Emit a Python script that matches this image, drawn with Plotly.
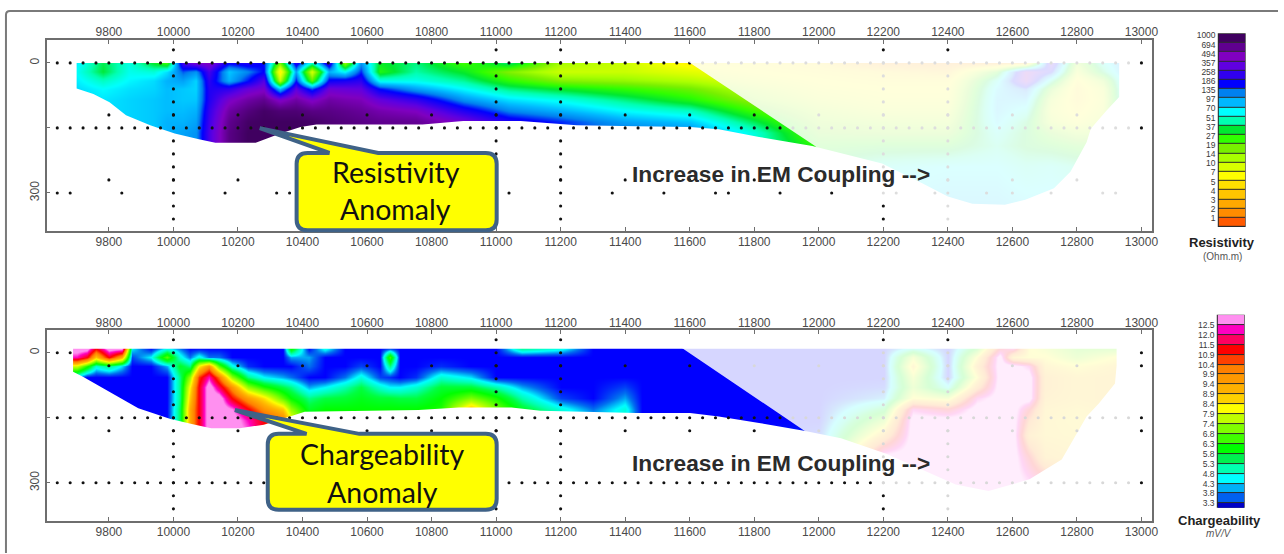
import numpy as np
import plotly.graph_objects as go

W, H = 1284, 554

# ---------- axes / ticks ----------
x_ticks = [9800, 10000, 10200, 10400, 10600, 10800, 11000, 11200, 11400, 11600, 11800,
           12000, 12200, 12400, 12600, 12800, 13000]
depth_ticks = [0, 150, 300]
depth_ticktext = ["0", "", "300"]

# ---------- resistivity section (ohm.m), one list per station, depths below ----------
res_depth = [0, 20, 40, 60, 85, 110, 135, 160, 190, 240, 330]
res_x = [9700, 9780, 9860, 9940, 9980, 10030, 10070, 10110, 10170, 10230, 10280, 10330, 10380,
         10430, 10480, 10530, 10580, 10640, 10750, 10900, 11040, 11200, 11400, 11600, 11800,
         12000, 12200, 12400, 12550, 12640, 12720, 12800, 12880, 12950]
res_9700 = [75, 68, 75, 82, 85, 85, 85, 85, 85, 85, 85]
res_9780 = [40, 38, 55, 70, 78, 80, 80, 80, 80, 80, 80]
res_9860 = [62, 65, 72, 80, 85, 85, 85, 85, 85, 85, 85]
res_9940 = [35, 60, 82, 85, 90, 90, 90, 90, 90, 90, 90]
res_9980 = [25, 80, 100, 95, 95, 95, 100, 100, 100, 100, 100]
res_10030 = [300, 150, 110, 90, 90, 95, 100, 110, 110, 110, 110]
res_10070 = [450, 120, 85, 85, 90, 100, 110, 120, 120, 120, 120]
res_10110 = [500, 300, 250, 230, 230, 260, 280, 300, 300, 300, 300]
res_10170 = [200, 90, 100, 250, 450, 600, 700, 750, 750, 750, 750]
res_10230 = [230, 130, 180, 380, 600, 800, 950, 1000, 1000, 1000, 1000]
res_10280 = [180, 190, 330, 450, 700, 950, 1000, 1000, 1000, 1000, 1000]
res_10330 = [20, 6, 12, 90, 450, 850, 1000, 1000, 1000, 1000, 1000]
res_10380 = [250, 110, 180, 350, 600, 850, 1000, 1000, 1000, 1000, 1000]
res_10430 = [60, 10, 22, 150, 450, 750, 950, 950, 950, 950, 950]
res_10480 = [300, 100, 200, 400, 600, 750, 850, 850, 850, 850, 850]
res_10530 = [15, 70, 220, 380, 550, 700, 800, 800, 800, 800, 800]
res_10580 = [120, 170, 250, 360, 520, 650, 750, 750, 750, 750, 750]
res_10640 = [35, 30, 65, 180, 370, 560, 700, 700, 700, 700, 700]
res_10750 = [45, 50, 65, 110, 260, 480, 680, 680, 680, 680, 680]
res_10900 = [25, 35, 48, 70, 120, 230, 420, 420, 420, 420, 420]
res_11040 = [45, 18, 28, 45, 80, 130, 230, 230, 230, 230, 230]
res_11200 = [14, 11, 18, 35, 65, 100, 170, 170, 170, 170, 170]
res_11400 = [11, 11, 16, 27, 45, 70, 110, 150, 150, 150, 150]
res_11600 = [6, 9, 13, 20, 30, 55, 90, 130, 130, 130, 130]
res_11800 = [6, 7, 9, 12, 16, 25, 40, 60, 60, 60, 60]
res_12000 = [5, 6, 7, 8, 10, 13, 16, 20, 27, 40, 50]
res_12200 = [2.5, 5, 6, 7, 8, 10, 14, 18, 30, 60, 80]
res_12400 = [2.5, 4, 6, 7, 8, 10, 13, 18, 30, 70, 90]
res_12550 = [2.5, 25, 60, 80, 90, 90, 80, 60, 50, 70, 90]
res_12640 = [3, 500, 500, 150, 90, 60, 40, 35, 35, 55, 80]
res_12720 = [400, 200, 50, 20, 12, 10, 12, 20, 30, 60, 80]
res_12800 = [15, 10, 6, 5, 5, 6, 8, 14, 25, 50, 70]
res_12880 = [60, 40, 15, 10, 9, 10, 12, 15, 25, 50, 70]
res_12950 = [130, 130, 110, 100, 90, 90, 80, 70, 70, 70, 70]
res_columns = [res_9700, res_9780, res_9860, res_9940, res_9980, res_10030, res_10070, res_10110,
               res_10170, res_10230, res_10280, res_10330, res_10380, res_10430, res_10480,
               res_10530, res_10580, res_10640, res_10750, res_10900, res_11040, res_11200,
               res_11400, res_11600, res_11800, res_12000, res_12200, res_12400, res_12550,
               res_12640, res_12720, res_12800, res_12880, res_12950]

# outline of the resistivity section
res_edge_x = [9700, 9700, 9752, 9802, 9853, 9928, 10004, 10079, 10130, 10255, 10331, 10394, 10443,
              10772, 10898, 11076, 11250, 11436, 11601, 11690, 11815, 11980, 12196, 12322, 12400,
              12476, 12577, 12640, 12729, 12780, 12830, 12843, 12892, 12931, 12931]
res_edge_d = [0, 59, 72, 91, 121, 144, 163, 176, 184, 184, 163, 148, 142,
              142, 134, 134, 144, 146, 148, 153, 171, 192, 232, 278, 308,
              325, 327, 316, 289, 251, 183, 152, 110, 79, 0]
res_wash_x = [11591, 11985, 12205, 12410, 12970, 12970]
res_wash_d = [-5, 190, 315, 375, 375, -5]

# ---------- chargeability section (mV/V) ----------
chg_depth = [-10, 10, 30, 55, 80, 105, 130, 155, 190, 240, 330]
chg_x = [9700, 9730, 9760, 9800, 9840, 9870, 9930, 9980, 10020, 10050, 10080, 10110, 10140, 10180,
         10230, 10280, 10340, 10365, 10420, 10470, 10530, 10580, 10640, 10670, 10700, 10750, 10830,
         10920, 11000, 11080, 11200, 11300, 11400, 11450, 11600, 11800, 12000, 12200, 12290, 12400,
         12490, 12560, 12600, 12650, 12700, 12800, 12920]
chg_9700 = [13, 12, 7.5, 4, 3.3, 3.3, 3.3, 3.3, 3.3, 3.3, 3.3]
chg_9730 = [13, 11, 6, 3.3, 3.3, 3.3, 3.3, 3.3, 3.3, 3.3, 3.3]
chg_9760 = [11, 8.5, 4.5, 3.3, 3.3, 3.3, 3.3, 3.3, 3.3, 3.3, 3.3]
chg_9800 = [13, 11, 5, 3.3, 3.3, 3.3, 3.3, 3.3, 3.3, 3.3, 3.3]
chg_9840 = [13, 9, 4.2, 3.3, 3.3, 3.3, 3.3, 3.3, 3.3, 3.3, 3.3]
chg_9870 = [4.3, 3.6, 3.3, 3.3, 3.3, 3.3, 3.3, 3.3, 3.3, 3.3, 3.3]
chg_9930 = [3.3, 4.3, 3.3, 3.3, 3.3, 3.3, 3.3, 3.3, 3.3, 3.3, 3.3]
chg_9980 = [4.3, 6.5, 4, 3.3, 3.3, 3.3, 3.3, 3.3, 3.3, 3.3, 3.3]
chg_10020 = [3.8, 4.5, 5.5, 5, 5, 5, 5.2, 5.2, 5.2, 5.2, 5.2]
chg_10050 = [3.3, 3.8, 5, 7, 8, 8.5, 9, 9, 9, 9, 9]
chg_10080 = [3.3, 4.5, 8, 10.5, 11, 11, 11, 11, 11, 11, 11]
chg_10110 = [3.3, 3.8, 9.5, 12, 13, 13, 13, 13, 13, 13, 13]
chg_10140 = [3.3, 3.8, 6.5, 10, 11.5, 13, 13, 13, 13, 13, 13]
chg_10180 = [3.3, 3.3, 4.5, 7, 9.5, 10.9, 12.5, 13, 13, 13, 13]
chg_10230 = [3.3, 3.3, 3.5, 5, 7, 9.3, 11, 12, 12.5, 12.5, 12.5]
chg_10280 = [3.3, 3.3, 3.3, 4.3, 6, 8.2, 9.5, 10.9, 10.9, 10.9, 10.9]
chg_10340 = [3.3, 3.3, 3.3, 4, 5.3, 6.5, 8.5, 9.9, 9.9, 9.9, 9.9]
chg_10365 = [6, 4, 3.3, 3.8, 5, 5.8, 7, 8, 8, 8, 8]
chg_10420 = [3.3, 4, 3.8, 3.3, 4, 5, 5.5, 6, 6, 6, 6]
chg_10470 = [4.5, 3.3, 3.3, 3.3, 4.3, 5.3, 5.8, 6, 6, 6, 6]
chg_10530 = [3.3, 3.3, 3.3, 3.8, 4.8, 5.4, 5.8, 6, 6, 6, 6]
chg_10580 = [3.3, 3.3, 3.6, 4.5, 5.3, 5.6, 5.8, 6.3, 6.3, 6.3, 6.3]
chg_10640 = [3.3, 3.3, 3.3, 3.6, 4.6, 5.4, 5.8, 6.3, 6.3, 6.3, 6.3]
chg_10670 = [3.5, 6.3, 5, 3.5, 4.3, 5.4, 5.8, 6.3, 6.3, 6.3, 6.3]
chg_10700 = [3.3, 3.3, 3.3, 3.3, 4.3, 5.3, 5.8, 6, 6, 6, 6]
chg_10750 = [3.3, 3.3, 3.3, 3.5, 4.6, 5.3, 5.8, 6, 6, 6, 6]
chg_10830 = [3.3, 3.3, 3.5, 4.6, 5.4, 5.8, 6, 6, 6, 6, 6]
chg_10920 = [3.3, 3.3, 3.3, 4.2, 5.4, 6.8, 8.7, 8.7, 8.7, 8.7, 8.7]
chg_11000 = [3.3, 3.3, 3.3, 3.3, 4.8, 6, 6.8, 7, 7, 7, 7]
chg_11080 = [5, 3.3, 3.3, 3.3, 4, 4.8, 5.5, 5.5, 5.5, 5.5, 5.5]
chg_11200 = [4.5, 3.3, 3.3, 3.3, 3.3, 3.6, 4.5, 4.5, 4.5, 4.5, 4.5]
chg_11300 = [3.3, 3.3, 3.3, 3.3, 3.3, 3.3, 3.8, 4.2, 4.2, 4.2, 4.2]
chg_11400 = [3.3, 3.3, 3.3, 3.3, 3.6, 4, 4.5, 4.5, 4.5, 4.5, 4.5]
chg_11450 = [3.3, 3.3, 3.3, 3.3, 3.3, 3.3, 3.3, 3.3, 3.3, 3.3, 3.3]
chg_11600 = [3.3, 3.3, 3.3, 3.3, 3.3, 3.3, 3.3, 3.3, 3.3, 3.3, 3.3]
chg_11800 = [3.3, 3.3, 3.3, 3.3, 3.3, 3.3, 3.3, 3.3, 3.3, 3.3, 3.3]
chg_12000 = [3.3, 3.3, 3.3, 3.3, 3.3, 3.3, 3.3, 3.3, 3.5, 3.5, 3.5]
chg_12200 = [3.3, 3.3, 3.3, 3.3, 3.5, 4, 5.5, 7, 9, 13, 13]
chg_12290 = [4.5, 7.5, 8.5, 7.5, 7, 8, 12, 13, 13, 13, 13]
chg_12400 = [3.3, 3.3, 3.3, 3.3, 4.5, 7.5, 11, 13, 13, 13, 13]
chg_12490 = [6, 8, 9, 8, 9.5, 12, 13, 13, 13, 13, 13]
chg_12560 = [11, 13, 13, 13, 13, 13, 13, 13, 13, 13, 13]
chg_12600 = [12, 8.5, 13, 13, 13, 13, 13, 13, 13, 13, 13]
chg_12650 = [8, 8, 12, 13, 13, 13, 11, 10, 9, 11, 13]
chg_12700 = [7.5, 8, 8.5, 9, 9, 8.8, 8.5, 8.4, 8.4, 8.8, 13]
chg_12800 = [6.5, 7, 8, 8.5, 8.5, 8.5, 8.3, 8.2, 8.3, 8.5, 8.5]
chg_12920 = [6.5, 8, 8.5, 8.7, 8.7, 8.7, 8.5, 8.5, 8.5, 8.5, 8.5]
chg_columns = [chg_9700, chg_9730, chg_9760, chg_9800, chg_9840, chg_9870, chg_9930, chg_9980,
               chg_10020, chg_10050, chg_10080, chg_10110, chg_10140, chg_10180, chg_10230,
               chg_10280, chg_10340, chg_10365, chg_10420, chg_10470, chg_10530, chg_10580,
               chg_10640, chg_10670, chg_10700, chg_10750, chg_10830, chg_10920, chg_11000,
               chg_11080, chg_11200, chg_11300, chg_11400, chg_11450, chg_11600, chg_11800,
               chg_12000, chg_12200, chg_12290, chg_12400, chg_12490, chg_12560, chg_12600,
               chg_12650, chg_12700, chg_12800, chg_12920]

chg_edge_x = [9689, 9689, 9721, 9891, 9991, 10067, 10117, 10205, 10280, 10344, 10407, 10760, 10885,
              11048, 11137, 11436, 11601, 11690, 11815, 11954, 12069, 12209, 12424, 12526, 12653,
              12753, 12830, 12868, 12918, 12923, 12923]
chg_edge_d = [-9, 44, 56, 128, 153, 166, 174, 174, 166, 151, 136, 132, 126,
              126, 134, 139, 139, 147, 162, 180, 197, 233, 304, 319, 292,
              246, 147, 117, 71, 30, -9]
chg_wash_x = [11568, 11960, 12190, 12190, 12410, 12985, 12985]
chg_wash_d = [-15, 182, 290, 315, 375, 375, -15]

# ---------- measurement points ----------
line_x = list(range(9640, 13001, 40))
grid_x = list(range(9800, 12801, 200))
col_x = [10000, 11000, 11200, 12200, 12400]
col_d = list(range(-30, 361, 30))
res_row300_x = [9640, 9680, 9840, 10160, 10320, 10360, 11040, 11360, 11520, 11680, 11720, 11880,
                12040, 12240, 12360, 12520, 12600, 12720, 12880, 12920]
res_rows_200 = [120, 270]
chg_row0_x = [9640, 9680, 13000, 13040]
chg_rows_200 = [30, 180]

# ---------- colour legend ----------
res_labels = ["1", "2", "3", "4", "5", "7", "10", "14", "19", "27", "37", "51", "70", "97", "135",
              "186", "258", "357", "494", "694", "1000"]
res_levels = [1, 2, 3, 4, 5, 7, 10, 14, 19, 27, 37, 51, 70, 97, 135, 186, 258, 357, 494, 694, 1000]
res_colors = ["#ff5a00", "#ff8c00", "#ffa800", "#ffc400", "#ffe000", "#ffff00", "#d8ff00", "#a8ff00",
              "#78f000", "#30ff00", "#00e830", "#00ffb0", "#00ffff", "#00b8ff", "#0080f0", "#0000ff",
              "#3000f0", "#6000e0", "#8000c0", "#600090", "#400060"]
chg_labels = ["3.3", "3.8", "4.3", "4.8", "5.3", "5.8", "6.3", "6.8", "7.4", "7.9", "8.4", "8.9",
              "9.4", "9.9", "10.4", "10.9", "11.5", "12.0", "12.5"]
chg_levels = [3.3, 3.8, 4.3, 4.8, 5.3, 5.8, 6.3, 6.8, 7.4, 7.9, 8.4, 8.9, 9.4, 9.9, 10.4, 10.9,
              11.5, 12.0, 12.5]
chg_colors = ["#0000ff", "#0070f0", "#00ffff", "#00ffb0", "#00ff40", "#00ff00", "#40ff00", "#80ff00",
              "#c0ff00", "#ffff00", "#ffd000", "#ffb000", "#ff9800", "#ff8000", "#ff4000", "#ff0000",
              "#ff0060", "#ff00c0", "#ff90f0"]
chg_bar_colors = ["#0000c8", "#0060f0", "#00b0f8", "#00ffff", "#00ffb0", "#00f050", "#00ff00",
                  "#40ff00", "#80ff00", "#c0ff00", "#ffff00", "#ffd000", "#ffb000", "#ff9800",
                  "#ff8000", "#ff4000", "#ff0000", "#ff0060", "#ff00c0", "#ff90f0"]

# ---------- layout helpers (pixels -> paper) ----------
def dx(a, b):
    return [a / W, b / W]

def dy(top, bottom):
    return [1 - bottom / H, 1 - top / H]

def px(x):
    return x / W

def py(y):
    return 1 - y / H

X_RANGE = [9607.5, 13033]
FRAME = "#6e6e6e"
TICK_FONT = dict(family="Liberation Sans", size=12, color="#4a4a4a")

fig = go.Figure()

def stops(levels, colors, transform=lambda v: v):
    lo, hi = transform(levels[0]), transform(levels[-1])
    return [[(transform(v) - lo) / (hi - lo), c] for v, c in zip(levels, colors)]

def mask_path(xs, ds, xr, yr):
    xl, xh = xr
    yb, yt = yr
    mx = [xl, xh, xh, xl, xl] + list(xs) + [xs[0], xl]
    my = [yt, yt, yb, yb, yt] + list(ds) + [ds[0], yt]
    return mx, my

def poly(xs, ds):
    return "M " + " L ".join(f"{a},{b}" for a, b in zip(xs, ds)) + " Z"

def add_panel(n, xs, ds, columns, levels, colors, edge_x, edge_d, points_x, points_d, y_range,
              log_scale):
    z = np.array(columns, dtype=float).T
    tr = np.log10 if log_scale else (lambda v: v)
    xa, ya, xt = f"x{n * 3 - 2 if n > 1 else ''}", f"y{n * 3 - 2 if n > 1 else ''}", f"x{n * 3 - 1}"
    fig.add_trace(go.Heatmap(x=xs, y=ds, z=tr(z), zsmooth="best", showscale=False,
                             zmin=tr(levels[0]), zmax=tr(levels[-1]),
                             colorscale=stops(levels, colors, tr), hoverinfo="skip",
                             xaxis=xa, yaxis=ya))
    mx, my = mask_path(edge_x, edge_d, [X_RANGE[0] - 50, X_RANGE[1] + 50],
                       [y_range[0] + 30, y_range[1] - 30])
    fig.add_trace(go.Scatter(x=mx, y=my, mode="lines", fill="toself", fillcolor="white",
                             line=dict(width=0, color="white", simplify=False), hoverinfo="skip",
                             xaxis=xa, yaxis=ya, showlegend=False))
    fig.add_trace(go.Scatter(x=points_x, y=points_d, mode="markers",
                             marker=dict(size=3.1, color="#111111"), hoverinfo="skip",
                             xaxis=xt, yaxis=ya, showlegend=False))

# top panel points
res_px, res_pd = [], []
for d in [0, 150]:
    res_px += line_x
    res_pd += [d] * len(line_x)
res_px += res_row300_x
res_pd += [300] * len(res_row300_x)
for d in res_rows_200:
    res_px += grid_x
    res_pd += [d] * len(grid_x)
for c in col_x:
    res_px += [c] * len(col_d)
    res_pd += col_d

# bottom panel points
chg_px, chg_pd = [], []
for d in [150, 300]:
    chg_px += line_x + [13040]
    chg_pd += [d] * (len(line_x) + 1)
chg_px += chg_row0_x
chg_pd += [0] * len(chg_row0_x)
for d in chg_rows_200:
    chg_px += grid_x + [13000]
    chg_pd += [d] * (len(grid_x) + 1)
for c in col_x:
    chg_px += [c] * len(col_d)
    chg_pd += col_d

RES_Y = [387, -52.7]
CHG_Y = [388.6, -52.7]
add_panel(1, res_x, res_depth, res_columns, res_levels, res_colors, res_edge_x, res_edge_d,
          res_px, res_pd, RES_Y, True)
add_panel(2, chg_x, chg_depth, chg_columns, chg_levels, chg_colors, chg_edge_x, chg_edge_d,
          chg_px, chg_pd, CHG_Y, False)

def axis_x(domain, anchor, side, overlay=None, standoff=0):
    d = dict(domain=domain, range=X_RANGE, tickmode="array", tickvals=x_ticks,
             ticktext=[str(t) for t in x_ticks], ticks="inside", ticklen=4, tickcolor=FRAME,
             tickfont=TICK_FONT, showgrid=False, zeroline=False, anchor=anchor, side=side,
             showline=True, linecolor=FRAME, linewidth=1.5, mirror=True,
             ticklabelstandoff=standoff)
    if overlay:
        d["overlaying"] = overlay
    return d

def axis_y(domain, rng, anchor):
    return dict(domain=domain, range=rng, tickmode="array", tickvals=depth_ticks,
                ticktext=depth_ticktext, tickangle=-90, ticks="inside", ticklen=3, tickcolor=FRAME,
                tickfont=TICK_FONT, showgrid=False, zeroline=False, anchor=anchor,
                showline=True, linecolor=FRAME, linewidth=1.5, mirror=True, ticklabelstandoff=1)

top_x, bot_x = dx(47, 1157.5), dx(47, 1157.5)
fig.update_layout(
    xaxis=axis_x(top_x, "y", "bottom", standoff=-1),
    yaxis=axis_y(dy(37.3, 229.3), RES_Y, "x"),
    xaxis2=axis_x(top_x, "y", "top", "x", standoff=-3),
    xaxis4=axis_x(bot_x, "y4", "bottom", standoff=-1),
    yaxis4=axis_y(dy(329.3, 522), CHG_Y, "x4"),
    xaxis5=axis_x(bot_x, "y4", "top", "x4", standoff=-4),
)

# ---------- legend bars ----------
def add_bar(xaxis, yaxis, ax_idx, colors, labels, tick_pos, y_rng, dom_x, dom_y, cell_offset):
    n = len(colors)
    fig.add_trace(go.Heatmap(x=[0], y=[i + cell_offset for i in range(n)],
                             z=[[i] for i in range(n)], zmin=0, zmax=n - 1,
                             colorscale=[[i / (n - 1), c] for i, c in enumerate(colors)],
                             showscale=False, ygap=1, hoverinfo="skip", xaxis=xaxis, yaxis=yaxis))
    fig.layout[f"xaxis{ax_idx}"] = dict(domain=dom_x, range=[-0.5, 0.5], visible=False, anchor=yaxis)
    fig.layout[f"yaxis{ax_idx}"] = dict(domain=dom_y, range=y_rng, anchor=xaxis, showline=False,
                                        tickmode="array", tickvals=tick_pos, ticktext=labels,
                                        ticks="", showgrid=False, zeroline=False,
                                        ticklabelstandoff=2,
                                        tickfont=dict(family="Liberation Sans", size=8.5,
                                                      color="#3a3a3a"))

res_step = 9.2 / (194.7 / 21)
res_tick_pos = [-0.5 + 0.98 + k * res_step for k in range(len(res_labels))]
add_bar("x7", "y7", 7, res_colors, res_labels, res_tick_pos, [-0.5, 20.5],
        dx(1224.3, 1251), dy(31, 225.7), 0)
chg_tick_pos = list(range(len(chg_labels)))
add_bar("x8", "y8", 8, chg_bar_colors, chg_labels, chg_tick_pos, [-0.43, 19.0],
        dx(1223.3, 1250), dy(314.3, 508.3), -0.5)

# ---------- overlays ----------
shapes = [
    dict(type="path", layer="above", xref="x", yref="y", path=poly(res_wash_x, res_wash_d),
         fillcolor="white", opacity=0.86, line=dict(width=0)),
    dict(type="path", layer="above", xref="x4", yref="y4", path=poly(chg_wash_x, chg_wash_d),
         fillcolor="white", opacity=0.84, line=dict(width=0)),
]

def paper_path(cmds):
    out = []
    for c in cmds:
        if isinstance(c, str):
            out.append(c)
        else:
            out.append(f"{px(c[0]):.5f},{py(c[1]):.5f}")
    return " ".join(out)

def callout(l, t, r, b, tip, base_l, base_r):
    rad = 11
    cmds = ["M", (l + rad, t), "L", (base_l, t), "L", tip, "L", (base_r, t), "L", (r - rad, t),
            "Q", (r, t), (r, t + rad), "L", (r, b - rad), "Q", (r, b), (r - rad, b),
            "L", (l + rad, b), "Q", (l, b), (l, b - rad), "L", (l, t + rad),
            "Q", (l, t), (l + rad, t), "Z"]
    return dict(type="path", layer="above", xref="paper", yref="paper", path=paper_path(cmds),
                fillcolor="#ffff00", line=dict(color="#3f6287", width=4))

shapes.append(callout(298, 151, 499, 229, (261, 126), 331, 380))
shapes.append(callout(269, 434, 499, 510.5, (236, 410), 308, 361))
# panel outer frame
shapes.append(dict(type="path", layer="below", xref="paper", yref="paper",
                   path=paper_path(["M", (1284, 8), "L", (10, 8), "Q", (6, 8), (6, 12), "L", (6, 554)]),
                   line=dict(color="#7a7a7a", width=2)))
# dark backing of the legend bars
shapes.append(dict(type="rect", layer="below", xref="paper", yref="paper",
                   x0=px(1223.5), x1=px(1251.5), y0=py(225.7), y1=py(30.5),
                   fillcolor="#2a2a2a", line=dict(width=0)))
shapes.append(dict(type="rect", layer="below", xref="paper", yref="paper",
                   x0=px(1222.5), x1=px(1250.5), y0=py(508.5), y1=py(314),
                   fillcolor="#2a2a2a", line=dict(width=0)))

def note(x, y, text, **font):
    return dict(x=px(x), y=py(y), xref="paper", yref="paper", text=text, showarrow=False,
                xanchor="center", yanchor="middle", font=font)

CALL = dict(family="Lato", size=28.5, color="#111111")
HEAD = dict(family="Liberation Sans", size=22.7, color="#2b2b2b")
annotations = [
    note(398, 170, "Resistivity", **CALL),
    note(397, 208, "Anomaly", **CALL),
    note(384, 454, "Chargeability", **CALL),
    note(384, 493, "Anomaly", **CALL),
    note(785, 172, "<b>Increase in EM Coupling --&gt;</b>", **HEAD),
    note(785, 463, "<b>Increase in EM Coupling --&gt;</b>", **HEAD),
    note(1228, 241, "<b>Resistivity</b>", family="Liberation Sans", size=13, color="#222222"),
    note(1228, 255, "(Ohm.m)", family="Liberation Sans", size=10, color="#555555"),
    note(1225, 521, "<b>Chargeability</b>", family="Liberation Sans", size=13, color="#222222"),
    note(1225, 534, "<i>mV/V</i>", family="Liberation Sans", size=10, color="#555555"),
]

fig.update_layout(width=W, height=H, margin=dict(l=0, r=0, t=0, b=0), autosize=False,
                  paper_bgcolor="white", plot_bgcolor="white", showlegend=False,
                  shapes=shapes, annotations=annotations)

fig.write_html("out.html", post_script="document.body.style.margin='0';document.body.style.overflow='hidden';",
               config=dict(displayModeBar=False))
